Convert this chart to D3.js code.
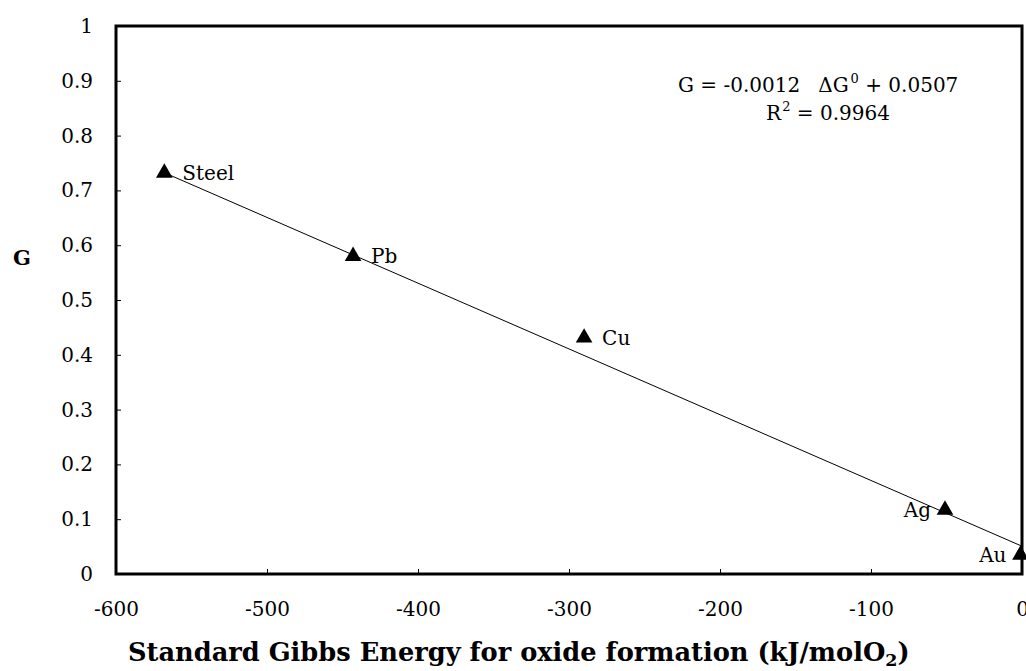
<!DOCTYPE html>
<html>
<head>
<meta charset="utf-8">
<script src="https://cdn.jsdelivr.net/npm/d3@7"></script>
<style>
  body { margin: 0; background: #fff; }
  text { font-family: "DejaVu Serif", serif; fill: #000; }
</style>
</head>
<body>
<svg id="chart" width="1026" height="671"></svg>
<script>
// data
const metals = ["Steel", "Pb", "Cu", "Ag", "Au"];
const gibbs = [-568, -443, -290, -51, -1];      // kJ/molO2
const gValues = [0.732, 0.580, 0.431, 0.117, 0.035];
const xTicks = [-600, -500, -400, -300, -200, -100, 0];
const yTicks = [0, 0.1, 0.2, 0.3, 0.4, 0.5, 0.6, 0.7, 0.8, 0.9, 1];
const slope = -0.0012, intercept = 0.0507, r2 = "0.9964";

const margin = { top: 26, right: 4, bottom: 97, left: 116 };
const width = 1026, height = 671;

const svg = d3.select("#chart");
const x = d3.scaleLinear().domain([-600, 0]).range([margin.left, width - margin.right]);
const y = d3.scaleLinear().domain([0, 1]).range([height - margin.bottom, margin.top]);

// inward ticks, plain hyphen for negatives
const g = svg.append("g");
g.append("g")
    .attr("transform", `translate(0,${y(0)})`)
    .call(d3.axisBottom(x).tickValues(xTicks).tickSizeInner(-5).tickSizeOuter(0).tickPadding(28)
        .tickFormat(d => String(d)))
    .call(a => a.select(".domain").remove())
    .call(a => a.selectAll("text").style("font-size", "20px").attr("font-family", null));

g.append("g")
    .attr("transform", `translate(${x(-600)},0)`)
    .call(d3.axisLeft(y).tickValues(yTicks).tickSizeInner(-5).tickSizeOuter(0).tickPadding(23)
        .tickFormat(d => String(d)))
    .call(a => a.select(".domain").remove())
    .call(a => a.selectAll("text").style("font-size", "20px").attr("font-family", null));

// trendline over the data range
const xMin = d3.min(gibbs), xMax = d3.max(gibbs) + 1;
svg.append("line")
    .attr("x1", x(xMin)).attr("y1", y(slope * xMin + intercept))
    .attr("x2", x(xMax)).attr("y2", y(slope * xMax + intercept))
    .attr("stroke", "#000").attr("stroke-width", 1);

// markers
const tri = d3.symbol().type(d3.symbolTriangle).size(120);
metals.forEach((m, i) => {
  const px = x(gibbs[i]), py = y(gValues[i]);
  svg.append("path").attr("d", tri).attr("transform", `translate(${px},${py})`).attr("fill", "#000");
  const left = m === "Ag" || m === "Au";
  svg.append("text")
      .attr("x", left ? px - 14 : px + 18)
      .attr("y", py + 7)
      .attr("text-anchor", left ? "end" : "start")
      .style("font-size", "20px")
      .text(m);
});

// plot frame
svg.append("rect")
    .attr("x", x(-600)).attr("y", y(1))
    .attr("width", x(0) - x(-600)).attr("height", y(0) - y(1))
    .attr("fill", "none").attr("stroke", "#000").attr("stroke-width", 3);

// regression annotation
const eq = svg.append("text").attr("x", 678).attr("y", 92).style("font-size", "20px");
eq.append("tspan").text("G = -0.0012");
eq.append("tspan").attr("dx", 18).text("\u0394G");
eq.append("tspan").attr("dy", -9).attr("dx", 2).style("font-size", "13px").text("0");
eq.append("tspan").attr("dy", 9).text(" + 0.0507");

const rt = svg.append("text").attr("x", 828).attr("y", 120).attr("text-anchor", "middle").style("font-size", "20px");
rt.append("tspan").text("R");
rt.append("tspan").attr("dy", -9).attr("dx", 1).style("font-size", "13px").text("2");
rt.append("tspan").attr("dy", 9).text(" = " + r2);

// axis titles
svg.append("text")
    .attr("x", 22).attr("y", 265)
    .attr("text-anchor", "middle")
    .style("font-size", "21px").style("font-weight", "bold")
    .text("G");

const xt = svg.append("text")
    .attr("x", 128).attr("y", 661)
    .style("font-size", "22px").style("font-weight", "bold");
xt.append("tspan").text("Standard Gibbs Energy for oxide formation (kJ/molO");
xt.append("tspan").attr("dy", 5).style("font-size", "15px").text("2");
xt.append("tspan").attr("dy", -5).text(")");
// fit the title to the span seen in the picture (128..910)
const w = xt.node().getBBox().width;
const fs = 22 * 782 / w;
xt.style("font-size", fs + "px");
xt.select("tspan:nth-child(2)").style("font-size", (fs * 0.68) + "px");
</script>
</body>
</html>
